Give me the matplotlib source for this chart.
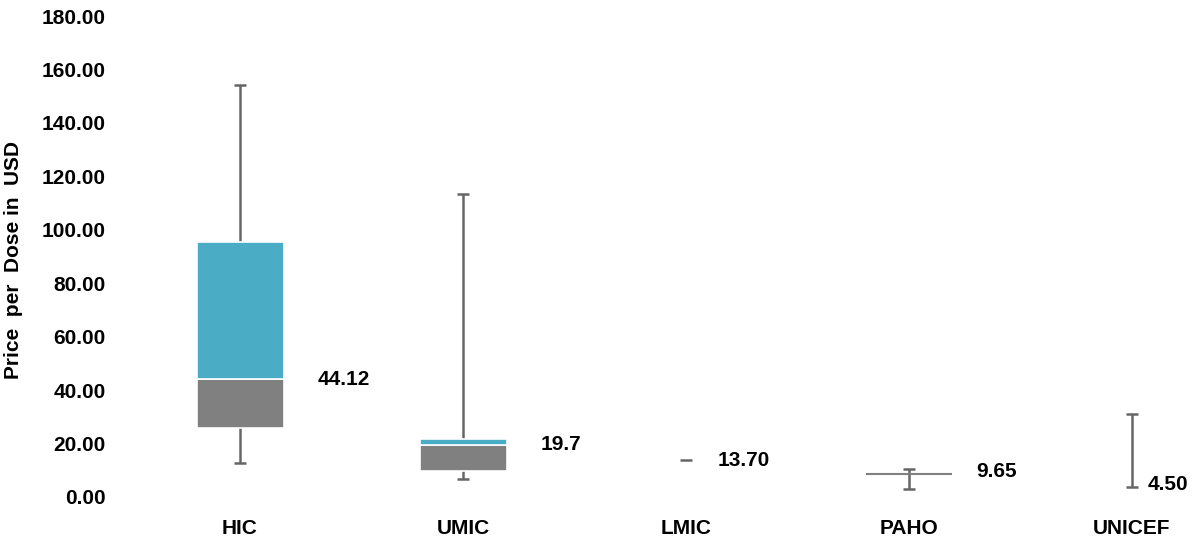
import numpy as np
import matplotlib
matplotlib.use("Agg")
import matplotlib.pyplot as plt

plt.rcParams['font.family'] = ['Liberation Sans Narrow', 'Liberation Sans', 'DejaVu Sans']

# Data (price per dose, USD)
categories = ['HIC', 'UMIC', 'LMIC', 'PAHO', 'UNICEF']
whisker_low = [12.7, 6.8, 13.7, 3.1, 3.9]
q1 = [25.8, 9.7, np.nan, 8.6, np.nan]
median = [44.12, 19.4, np.nan, 8.6, np.nan]
q3 = [95.6, 21.7, np.nan, 8.6, np.nan]
whisker_high = [154.0, 113.3, 13.7, 10.4, 30.9]
label_values = [44.12, 19.7, 13.70, 9.65, 4.50]
label_texts = ['44.12', '19.7', '13.70', '9.65', '4.50']

# layout
label_dx = [0.35, 0.35, 0.14, 0.30, 0.07]
box_w = 0.39
cap_w = 0.055
teal = '#4BACC6'
grey = '#808080'
whisker_col = '#666666'

fig = plt.figure(figsize=(12.04, 5.41), dpi=100)
ax = fig.add_axes([125 / 1204, 44 / 541, 1 - 125 / 1204, 481 / 541])

x = np.arange(len(categories))

for i in x:
    lo, hi = whisker_low[i], whisker_high[i]
    if hi > lo:
        ax.vlines(i, lo, hi, color=whisker_col, lw=1.8, zorder=1)
        ax.hlines([lo, hi], i - cap_w / 2, i + cap_w / 2, color=whisker_col, lw=1.8, zorder=1)
    else:
        ax.hlines(hi, i - cap_w / 2, i + cap_w / 2, color=whisker_col, lw=1.8, zorder=1)

    if not np.isnan(q1[i]):
        if q3[i] - q1[i] < 0.5:
            ax.hlines(median[i], i - box_w / 2, i + box_w / 2, color=grey, lw=1.5, zorder=2)
        else:
            ax.bar(i, median[i] - q1[i], bottom=q1[i], width=box_w, color=grey,
                   edgecolor='white', lw=1.2, zorder=2)
            ax.bar(i, q3[i] - median[i], bottom=median[i], width=box_w, color=teal,
                   edgecolor='white', lw=1.2, zorder=2)

    ax.text(i + label_dx[i], label_values[i], label_texts[i], ha='left', va='center',
            fontsize=15, fontweight='bold', color='black')

ax.set_xlim(-0.516, 4.323)
ax.set_ylim(0, 180)
ax.set_yticks(np.arange(0, 181, 20))
ax.set_yticklabels([f'{v:.2f}' for v in np.arange(0, 181, 20)])
ax.set_xticks(x)
ax.set_xticklabels(categories)
for lab in ax.get_xticklabels() + ax.get_yticklabels():
    lab.set_fontweight('bold')
    lab.set_fontsize(15)
ax.tick_params(axis='y', length=0, pad=14)
ax.tick_params(axis='x', length=0, pad=16)
for s in ax.spines.values():
    s.set_visible(False)

fig.text(14 / 1204, 0.52, 'Price  per  Dose in  USD', rotation=90, ha='center', va='center',
         fontsize=15, fontweight='bold')

fig.savefig('out.png', dpi=100)
